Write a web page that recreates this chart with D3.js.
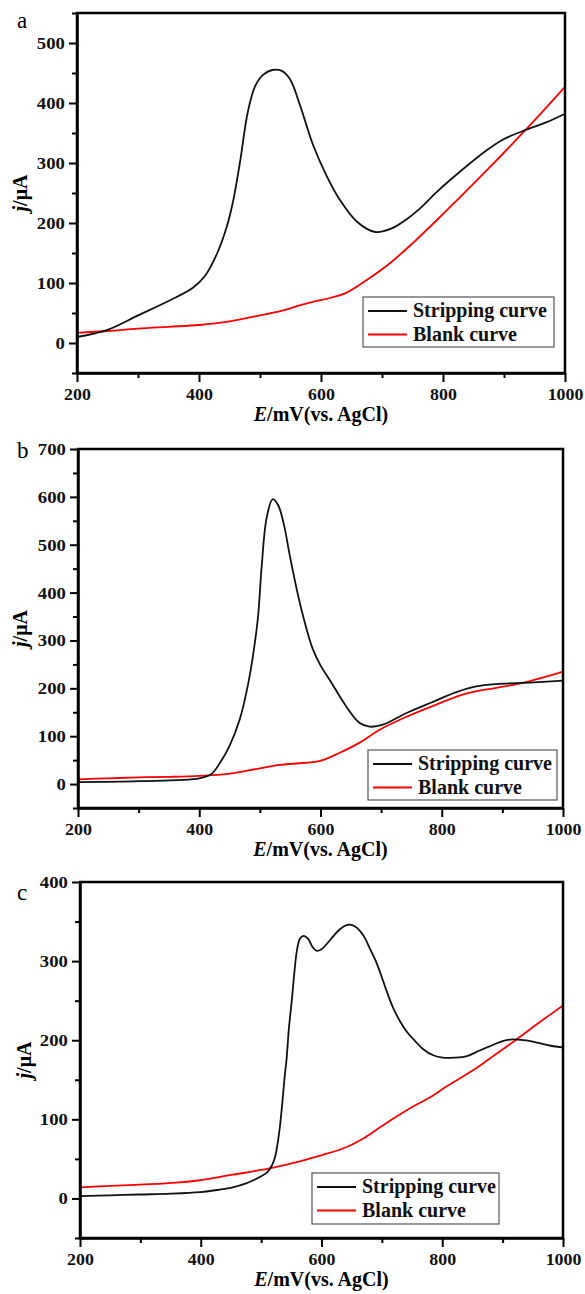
<!DOCTYPE html>
<html>
<head>
<meta charset="utf-8">
<script src="https://cdn.jsdelivr.net/npm/d3@7/dist/d3.min.js"></script>
<style>
  body { margin: 0; background: #fff; }
  svg { display: block; }
</style>
</head>
<body>
<svg id="chart" width="585" height="1294"></svg>
<script>
// --- data: [E (mV), j (µA)] ---
var stripA = [[200,10],[250,22],[300,46],[350,70],[390,92],[410,112],[430,150],[445,192],[455,232],[467,300],
  [480,385],[492,428],[505,447],[520,455],[535,454],[549,440],[566,395],[587,330],[610,277],[630,240],[659,202],
  [689,185],[718,192],[740,206],[762,224],[790,252],[833,290],[870,320],[900,340],[938,356],[970,368],[1000,382]];
var blankA = [[200,17],[250,20],[300,24],[350,27],[400,30],[450,36],[500,46],[533,53],[566,63],[588,69],[615,75],
  [642,84],[675,105],[713,133],[751,167],[790,205],[823,238],[872,288],[938,358],[1000,427]];

var stripB = [[200,4],[300,6],[400,12],[420,21],[434,44],[450,80],[467,136],[480,205],[490,280],[497,350],
  [503,455],[511,555],[521,595],[530,583],[540,540],[549,480],[562,400],[574,338],[587,283],[600,248],[615,218],
  [643,161],[664,128],[681,120],[703,124],[741,148],[784,171],[824,192],[857,204],[890,209],[944,212],[1000,216]];
var blankB = [[200,10],[250,12],[300,14],[350,15],[400,17],[450,22],[500,33],[533,40],[560,43],[598,48],[631,65],
  [664,86],[697,113],[741,140],[791,166],[840,189],[890,201],[928,210],[965,222],[1000,235]];

var stripC = [[200,3],[250,4],[299,5],[350,6],[399,8],[430,11],[453,14],[475,19],[487,23],[500,28],[510,33],
  [518,42],[523,52],[527,68],[531,90],[535,120],[539,154],[542,175],[546,215],[551,252],[555,285],[559,312],
  [564,328],[570,332],[578,328],[585,318],[592,313],[600,315],[608,321],[620,332],[630,340],[640,345],[647,346],
  [655,344],[664,338],[672,329],[680,316],[690,300],[697,286],[708,262],[718,242],[730,224],[741,211],[755,199],
  [768,189],[785,181],[801,178],[820,178],[841,180],[862,187],[884,194],[900,199],[917,201],[935,200],[957,197],
  [980,193],[1000,191]];
var blankC = [[200,14],[250,16],[316,18],[360,20],[399,23],[453,30],[500,36],[531,41],[564,47],[602,55],[642,65],
  [670,76],[697,90],[725,104],[751,116],[780,128],[808,142],[851,162],[879,177],[923,201],[960,222],[1000,244]];

var xTicks = [200, 400, 600, 800, 1000];
var xMinor = [300, 500, 700, 900];
var yTicksA = [0, 100, 200, 300, 400, 500];
var yTicksB = [0, 100, 200, 300, 400, 500, 600, 700];
var yTicksC = [0, 100, 200, 300, 400];
var legendLabels = ['Stripping curve', 'Blank curve'];
var seriesColors = ['#111', '#ff0000'];
var xTitle = 'mV(vs. AgCl)';

// layout of each panel (pixels)
var panels = [
  { letter: 'a', strip: stripA, blank: blankA, yTicks: yTicksA, yDomain: [-50, 550],
    left: 77, right: 565, top: 13, bottom: 373, letterY: 28, yTitleX: 27,
    legend: { x: 363, y: 297, w: 191, h: 50 } },
  { letter: 'b', strip: stripB, blank: blankB, yTicks: yTicksB, yDomain: [-50, 700],
    left: 78, right: 563, top: 449, bottom: 808, letterY: 458, yTitleX: 27,
    legend: { x: 368, y: 750, w: 189, h: 50 } },
  { letter: 'c', strip: stripC, blank: blankC, yTicks: yTicksC, yDomain: [-50, 400],
    left: 80, right: 563, top: 882, bottom: 1238, letterY: 900, yTitleX: 31,
    legend: { x: 312, y: 1173, w: 187, h: 51 } }
];

var font = '"Liberation Serif", "Times New Roman", serif';
var svg = d3.select('#chart');

panels.forEach(function (p) {
  var x = d3.scaleLinear().domain([200, 1000]).range([p.left, p.right]);
  var y = d3.scaleLinear().domain(p.yDomain).range([p.bottom, p.top]);
  var g = svg.append('g');

  // minor ticks at half steps
  var yMinor = d3.range(p.yDomain[0], p.yDomain[1] + 1, 50).filter(function (v) { return v % 100 !== 0; });

  // the curves
  var line = d3.line()
    .x(function (d) { return x(d[0]); })
    .y(function (d) { return y(d[1]); })
    .curve(d3.curveCatmullRom.alpha(0.5));

  g.append('path').datum(p.blank)
    .attr('fill', 'none').attr('stroke', seriesColors[1]).attr('stroke-width', 1.8)
    .attr('d', line);
  g.append('path').datum(p.strip)
    .attr('fill', 'none').attr('stroke', seriesColors[0]).attr('stroke-width', 1.8)
    .attr('d', line);

  // frame
  g.append('rect')
    .attr('x', p.left).attr('y', p.top)
    .attr('width', p.right - p.left).attr('height', p.bottom - p.top)
    .attr('fill', 'none').attr('stroke', '#000').attr('stroke-width', 2.5);

  // axes
  var xAxis = g.append('g').attr('transform', 'translate(0,' + p.bottom + ')')
    .call(d3.axisBottom(x).tickValues(xTicks).tickFormat(d3.format('d'))
      .tickSize(9).tickSizeOuter(0).tickPadding(6));
  g.append('g').attr('transform', 'translate(0,' + p.bottom + ')')
    .call(d3.axisBottom(x).tickValues(xMinor).tickSize(5).tickFormat(''))
    .select('.domain').remove();
  var yAxis = g.append('g').attr('transform', 'translate(' + p.left + ',0)')
    .call(d3.axisLeft(y).tickValues(p.yTicks).tickFormat(d3.format('d'))
      .tickSize(8).tickSizeOuter(0).tickPadding(4));
  g.append('g').attr('transform', 'translate(' + p.left + ',0)')
    .call(d3.axisLeft(y).tickValues(yMinor).tickSize(5).tickFormat(''))
    .select('.domain').remove();

  g.selectAll('.domain').attr('stroke-width', 2.5);
  g.selectAll('.tick line').attr('stroke', '#000').attr('stroke-width', 2);
  g.selectAll('.tick text')
    .style('font-family', font).style('font-weight', 'bold').style('font-size', '17px')
    .attr('fill', '#111');
  xAxis.selectAll('.tick text').attr('transform', 'scale(1.05,1)');
  yAxis.selectAll('.tick text').attr('transform', 'scale(1.1,1)').attr('x', -11);

  // panel letter
  g.append('text').attr('x', 17).attr('y', p.letterY)
    .style('font-family', font).style('font-size', '23px').text(p.letter);

  // y title
  var yt = g.append('text')
    .attr('transform', 'translate(' + p.yTitleX + ',' + ((p.top + p.bottom) / 2) + ') rotate(-90)')
    .attr('text-anchor', 'middle')
    .style('font-family', font).style('font-weight', 'bold').style('font-size', '20px');
  yt.append('tspan').style('font-style', 'italic').text('j');
  yt.append('tspan').text('/μA');

  // x title
  var xt = g.append('text')
    .attr('x', (p.left + p.right) / 2).attr('y', p.bottom + 48)
    .attr('text-anchor', 'middle')
    .style('font-family', font).style('font-weight', 'bold').style('font-size', '20px');
  xt.append('tspan').style('font-style', 'italic').text('E');
  xt.append('tspan').text('/' + xTitle);

  // legend
  var L = p.legend;
  var lg = g.append('g').attr('transform', 'translate(' + L.x + ',' + L.y + ')');
  lg.append('rect').attr('width', L.w).attr('height', L.h)
    .attr('fill', '#fff').attr('stroke', '#555').attr('stroke-width', 1.2);
  legendLabels.forEach(function (lab, i) {
    var cy = 14 + i * 23.5;
    lg.append('line').attr('x1', 5).attr('x2', 44).attr('y1', cy).attr('y2', cy)
      .attr('stroke', seriesColors[i]).attr('stroke-width', 2);
    lg.append('text').attr('x', 50).attr('y', cy + 6)
      .style('font-family', font).style('font-weight', 'bold').style('font-size', '20px')
      .attr('fill', '#111').text(lab);
  });
});
</script>
</body>
</html>
